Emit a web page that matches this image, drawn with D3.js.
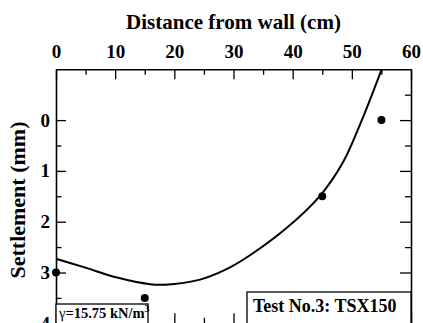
<!DOCTYPE html>
<html>
<head>
<meta charset="utf-8">
<script src="https://cdn.jsdelivr.net/npm/d3@7"></script>
<style>
	body { margin: 0; background: #fff; }
	svg { display: block; }
	svg text { font-family: "Liberation Serif", "Times New Roman", serif; font-weight: bold; }
</style>
</head>
<body>
<div id="grafica"></div>
<script>
// medidos (distancia cm, asentamiento mm)
var distancias = [0, 15, 45, 55];
var asentamientos = [3.0, 3.5, 1.5, 0.0];

// curva
var curvaX = [0, 4.56, 10.31, 15.89, 18.42, 24.34, 28.56, 32.79, 39.21, 44.62, 48.51, 51.55, 55.04];
var curvaY = [2.73, 2.89, 3.10, 3.23, 3.24, 3.14, 2.95, 2.66, 2.10, 1.49, 0.83, 0.04, -1.0];

var ticksX = [0, 10, 20, 30, 40, 50, 60];
var ticksY = [0, 1, 2, 3, 4];

var W = 423, H = 323;
var m = {t: 69.3, r: 12, b: -0.3, l: 56};

var g = d3.select('#grafica').append('svg')
	.attr('width', W)
	.attr('height', H);

var x = d3.scaleLinear().domain([0, 60]).range([m.l, W - m.r]);
var y = d3.scaleLinear().domain([-1, 4]).range([m.t, H - m.b]);

// ejes: ticks hacia adentro
var menoresX = d3.range(0, 61, 5);
var menoresY = d3.range(-0.5, 4.01, 0.5);

var ejeTop = d3.axisTop(x).tickValues(menoresX).tickSizeInner(-10).tickSizeOuter(0)
	.tickFormat(function(d) { return ticksX.indexOf(d) > -1 ? d : ''; }).tickPadding(11);
var ejeBottom = d3.axisBottom(x).tickValues(menoresX).tickSizeInner(-10).tickSizeOuter(0).tickFormat('');
var ejeLeft = d3.axisLeft(y).tickValues(menoresY.filter(function(d) { return d >= 0; }))
	.tickSizeInner(-10).tickSizeOuter(0)
	.tickFormat(function(d) { return ticksY.indexOf(d) > -1 ? d : ''; }).tickPadding(6);
var ejeRight = d3.axisRight(y).tickValues(menoresY).tickSizeInner(-11).tickSizeOuter(0).tickFormat('');

var estilo = function(sel, menor) {
	sel.attr('font-family', null).attr('font-size', null);
	sel.select('.domain').attr('stroke', '#000').attr('stroke-width', 1.6);
	sel.selectAll('.tick line').attr('stroke', '#000').attr('stroke-width', 1.3)
		.filter(menor).attr('x2', function() { var v = +d3.select(this).attr('x2'); return v ? v * 0.55 : v; })
		.attr('y2', function() { var v = +d3.select(this).attr('y2'); return v ? v * 0.55 : v; });
	sel.selectAll('.tick text')
		.style('font-family', '"Liberation Serif", "Times New Roman", serif')
		.style('font-weight', 'bold')
		.attr('font-size', 19).attr('fill', '#000');
};

var esMenorX = function(d) { return d % 10 !== 0; };
var esMenorY = function(d) { return d % 1 !== 0; };

g.append('g').attr('transform', 'translate(0,' + y(-1) + ')').call(ejeTop).call(estilo, esMenorX);
g.append('g').attr('transform', 'translate(0,' + y(4) + ')').call(ejeBottom).call(estilo, esMenorX);
g.append('g').attr('transform', 'translate(' + x(0) + ',0)').call(ejeLeft).call(estilo, esMenorY);
g.append('g').attr('transform', 'translate(' + x(60) + ',0)').call(ejeRight).call(estilo, esMenorY);

// titulos
g.append('text')
	.attr('x', 233.5).attr('y', 29)
	.attr('text-anchor', 'middle')
	.attr('font-size', 21)
	.text('Distance from wall (cm)');

g.append('text')
	.attr('transform', 'translate(25,200) rotate(-90)')
	.attr('text-anchor', 'middle')
	.attr('font-size', 22)
	.text('Settlement (mm)');

// curva
var linea = d3.line()
	.x(function(d) { return x(d[0]); })
	.y(function(d) { return y(d[1]); })
	.curve(d3.curveCatmullRom.alpha(0.5));

g.append('path')
	.datum(d3.zip(curvaX, curvaY))
	.attr('fill', 'none')
	.attr('stroke', '#000')
	.attr('stroke-width', 2)
	.attr('d', linea);

// puntos
g.selectAll('.punto').data(d3.zip(distancias, asentamientos))
	.enter().append('circle')
	.attr('class', 'punto')
	.attr('cx', function(d) { return x(d[0]); })
	.attr('cy', function(d) { return y(d[1]); })
	.attr('r', 4)
	.attr('fill', '#000');

// cajas
var caja1 = g.append('g');
caja1.append('rect')
	.attr('x', 56).attr('y', 304).attr('width', 92).attr('height', 30)
	.attr('fill', '#fff').attr('stroke', '#000').attr('stroke-width', 1.3);
var t1 = caja1.append('text').attr('x', 59).attr('y', 318).attr('font-size', 14.5);
t1.append('tspan').style('font-weight', 'normal').text('γ');
t1.append('tspan').text('=15.75 kN/m');
t1.append('tspan').attr('font-size', 10).attr('dy', -6).text('3');

var caja2 = g.append('g');
caja2.append('rect')
	.attr('x', 247).attr('y', 292).attr('width', x(60) - 247).attr('height', 40)
	.attr('fill', '#fff').attr('stroke', '#000').attr('stroke-width', 1.3);
caja2.append('text')
	.attr('x', 253).attr('y', 312)
	.attr('font-size', 18)
	.text('Test No.3: TSX150');
</script>
</body>
</html>
